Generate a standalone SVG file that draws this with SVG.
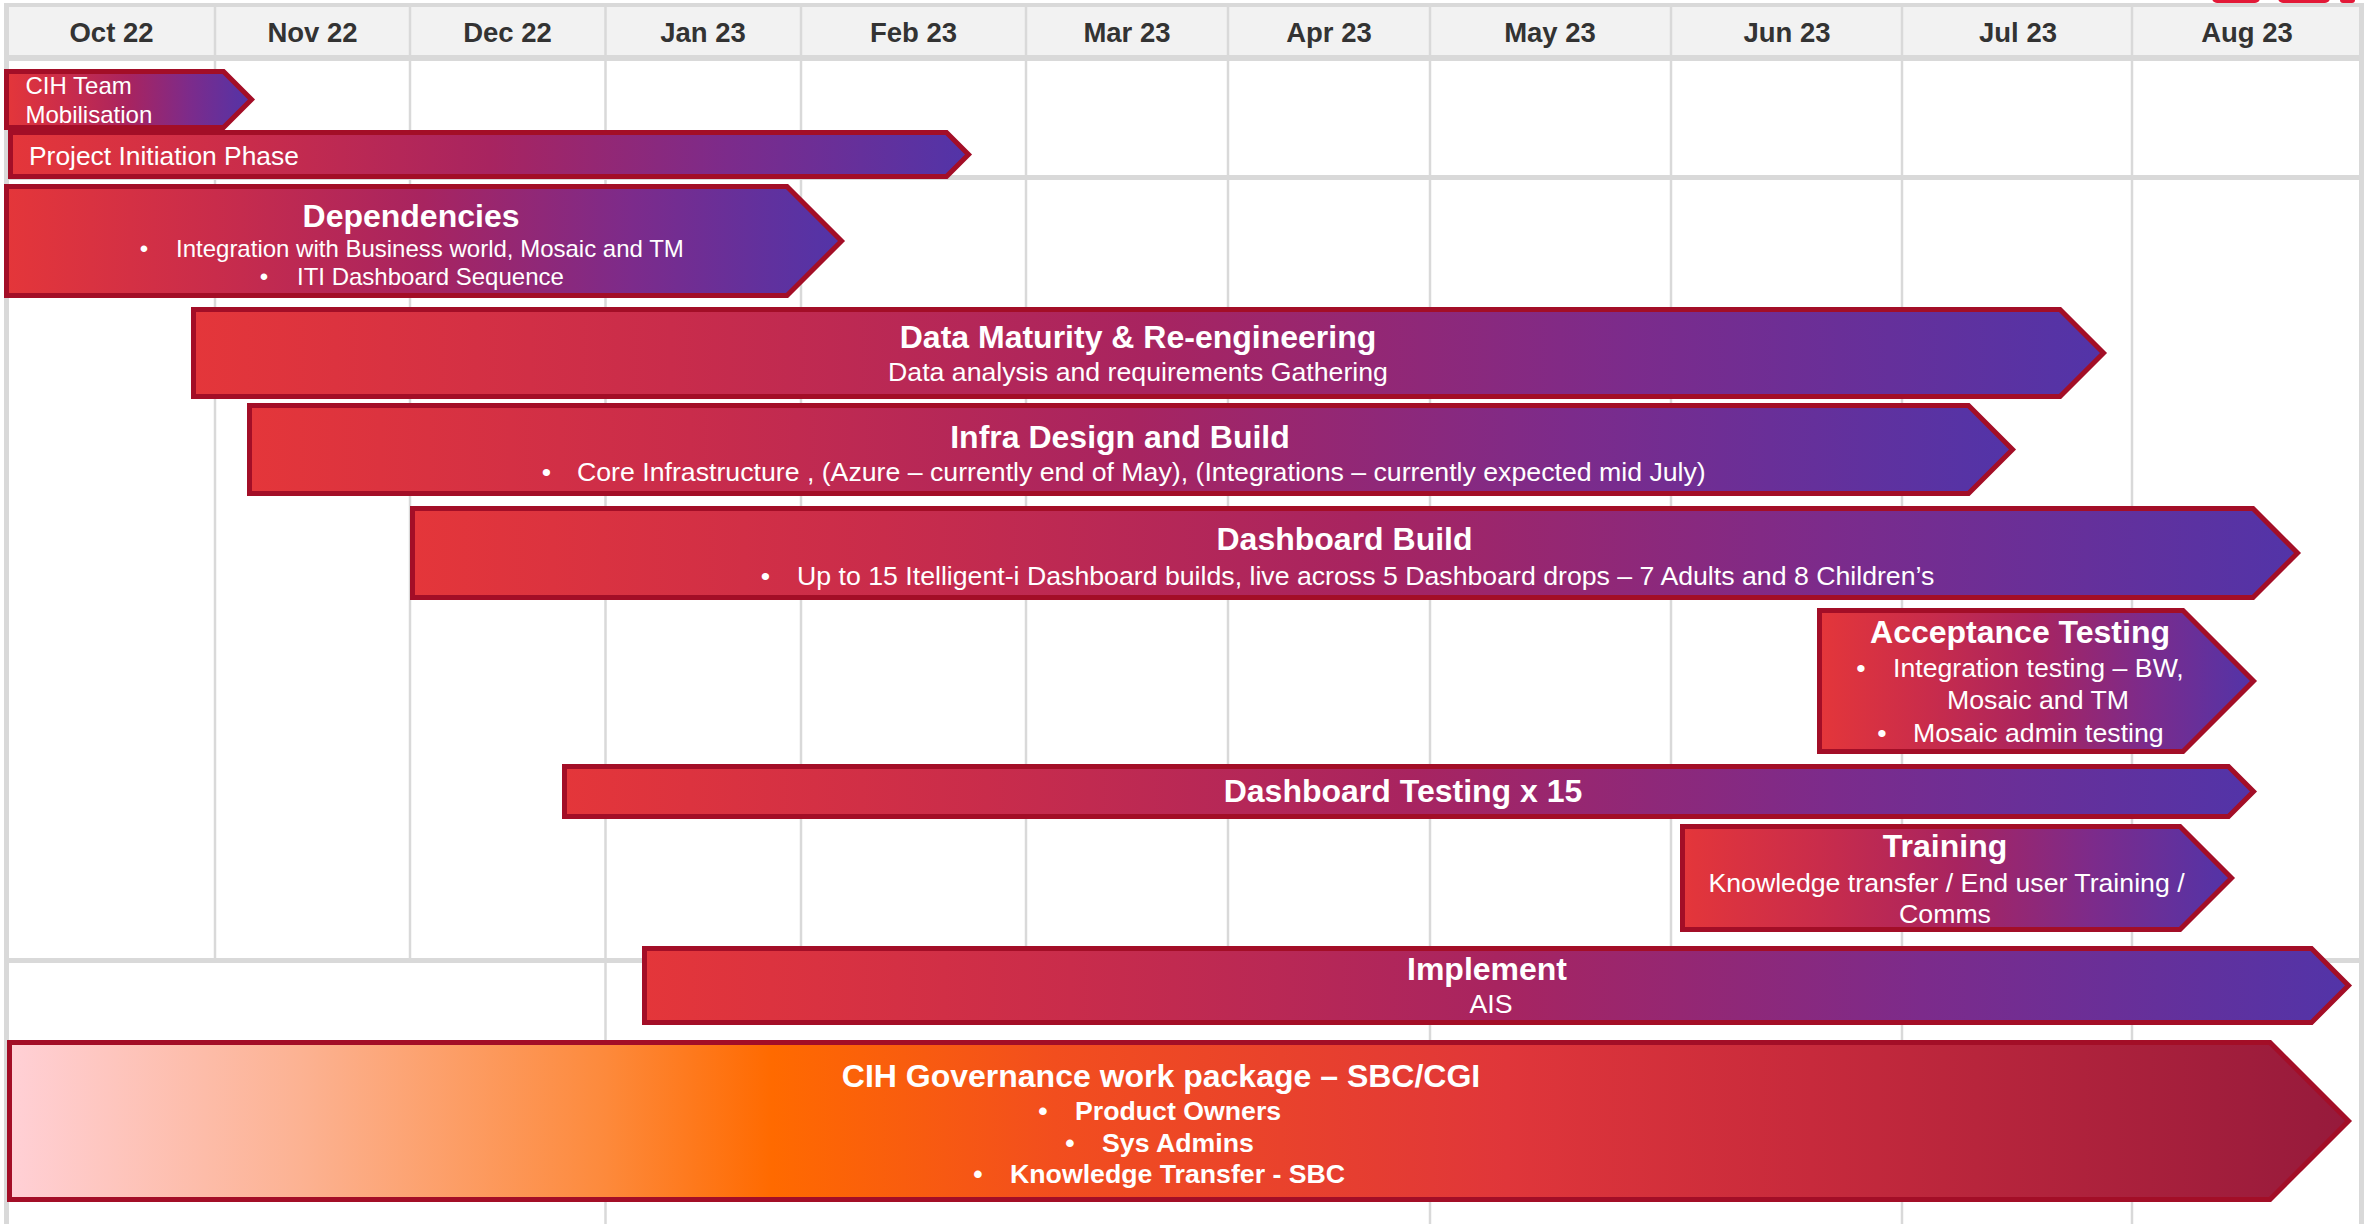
<svg xmlns="http://www.w3.org/2000/svg" width="2369" height="1224" viewBox="0 0 2369 1224">
<defs>
<linearGradient id="gBar" x1="0" y1="0" x2="1" y2="0">
<stop offset="0" stop-color="#E4363A"/>
<stop offset="0.25" stop-color="#C92C4B"/>
<stop offset="0.5" stop-color="#A82460"/>
<stop offset="0.75" stop-color="#7C2B8B"/>
<stop offset="1" stop-color="#5234A8"/>
</linearGradient>
<linearGradient id="gGov" x1="0" y1="0" x2="1" y2="0">
<stop offset="0" stop-color="#FFD0D6"/>
<stop offset="0.125" stop-color="#FCB292"/>
<stop offset="0.254" stop-color="#FD8A3C"/>
<stop offset="0.326" stop-color="#FF6A00"/>
<stop offset="0.447" stop-color="#F24E1E"/>
<stop offset="0.64" stop-color="#E0363A"/>
<stop offset="0.77" stop-color="#C72A3C"/>
<stop offset="1" stop-color="#961A3C"/>
</linearGradient>
</defs>
<style>
.bar{fill:url(#gBar);stroke:#A30E27;stroke-width:5;stroke-linejoin:miter}
.gov{fill:url(#gGov);stroke:#A30E27;stroke-width:5;stroke-linejoin:miter}
.gl{fill:#D9D9D9}
.cl{stroke:#D9D9D9;stroke-width:2.5}
.t{font-family:"Liberation Sans",Arial,sans-serif;fill:#FFFFFF}
.ti{font-weight:bold;font-size:32px;text-anchor:middle}
.s{font-size:26.7px}
.s24{font-size:24px}
.b{font-weight:bold}
.c{text-anchor:middle}
.mon{font-family:"Liberation Sans",Arial,sans-serif;font-weight:bold;font-size:27.5px;fill:#333333;text-anchor:middle}
.logo{fill:#E31837}
</style>
<rect x="0" y="0" width="2369" height="1224" fill="#FFFFFF"/>
<g id="logo-fragments">
<rect class="logo" x="2212" y="-12" width="48" height="15" rx="5"/>
<rect class="logo" x="2278" y="-12" width="52" height="15" rx="5"/>
<rect class="logo" x="2340" y="-12" width="15" height="15" rx="3"/>
</g>
<g id="grid">
<rect x="8" y="7" width="2354" height="48" fill="#F2F2F2"/>
<rect class="gl" x="4" y="3" width="2360" height="4"/>
<rect class="gl" x="4" y="55" width="2360" height="6"/>
<rect class="gl" x="4" y="175" width="2360" height="5"/>
<rect class="gl" x="4" y="958" width="2360" height="5"/>
<rect class="gl" x="4" y="3" width="5" height="1221"/>
<rect class="gl" x="2359" y="3" width="5" height="1221"/>
<g class="cl">
<line x1="215" y1="5" x2="215" y2="960"/>
<line x1="410" y1="5" x2="410" y2="960"/>
<line x1="605.5" y1="5" x2="605.5" y2="1224"/>
<line x1="801" y1="5" x2="801" y2="960"/>
<line x1="1026" y1="5" x2="1026" y2="960"/>
<line x1="1228" y1="5" x2="1228" y2="960"/>
<line x1="1430" y1="5" x2="1430" y2="1224"/>
<line x1="1671" y1="5" x2="1671" y2="960"/>
<line x1="1902" y1="5" x2="1902" y2="1224"/>
<line x1="2132" y1="5" x2="2132" y2="1224"/>
</g>
</g>
<g id="months">
<text class="mon" x="111.5" y="41.5">Oct 22</text>
<text class="mon" x="312.5" y="41.5">Nov 22</text>
<text class="mon" x="507.5" y="41.5">Dec 22</text>
<text class="mon" x="703" y="41.5">Jan 23</text>
<text class="mon" x="913.5" y="41.5">Feb 23</text>
<text class="mon" x="1127" y="41.5">Mar 23</text>
<text class="mon" x="1329" y="41.5">Apr 23</text>
<text class="mon" x="1550" y="41.5">May 23</text>
<text class="mon" x="1787" y="41.5">Jun 23</text>
<text class="mon" x="2018" y="41.5">Jul 23</text>
<text class="mon" x="2247" y="41.5">Aug 23</text>
</g>
<g id="bars">
<g id="cih-team-mobilisation">
<path class="bar" d="M6.5,71.5 H223.5 L251.5,99.5 L223.5,127.5 H6.5 Z"/>
<text class="t s24" x="25.5" y="94">CIH Team</text>
<text class="t s24" x="25.5" y="123">Mobilisation</text>
</g>
<g id="project-initiation-phase">
<path class="bar" d="M10.5,132.5 H946.5 L968.5,154.5 L946.5,176.5 H10.5 Z"/>
<text class="t" style="font-size:26.4px" x="29" y="165">Project Initiation Phase</text>
</g>
<g id="dependencies">
<path class="bar" d="M6.5,186.5 H787 L841.5,241 L787,295.5 H6.5 Z"/>
<text class="t ti" x="411" y="227">Dependencies</text>
<text class="t s24"><tspan class="c" x="144" y="257">•</tspan><tspan x="176" y="257">Integration with Business world, Mosaic and TM</tspan></text>
<text class="t s24"><tspan class="c" x="264" y="285">•</tspan><tspan x="297" y="285">ITI Dashboard Sequence</tspan></text>
</g>
<g id="data-maturity">
<path class="bar" d="M193.5,309.5 H2060 L2103.5,353 L2060,396.5 H193.5 Z"/>
<text class="t ti" x="1138" y="348">Data Maturity &amp; Re-engineering</text>
<text class="t s c" x="1138" y="381">Data analysis and requirements Gathering</text>
</g>
<g id="infra-design-build">
<path class="bar" d="M249.5,405.5 H1968.5 L2012.5,449.5 L1968.5,493.5 H249.5 Z"/>
<text class="t ti" x="1120" y="448">Infra Design and Build</text>
<text class="t s"><tspan class="c" x="546.5" y="481">•</tspan><tspan x="577" y="481">Core Infrastructure , (Azure – currently end of May), (Integrations – currently expected mid July)</tspan></text>
</g>
<g id="dashboard-build">
<path class="bar" d="M412.5,508.5 H2253 L2297.5,553 L2253,597.5 H412.5 Z"/>
<text class="t ti" x="1344.5" y="550">Dashboard Build</text>
<text class="t s"><tspan class="c" x="765.5" y="585">•</tspan><tspan x="797" y="585">Up to 15 Itelligent-i Dashboard builds, live across 5 Dashboard drops – 7 Adults and 8 Children’s</tspan></text>
</g>
<g id="acceptance-testing">
<path class="bar" d="M1819.5,610.5 H2183 L2253.5,681 L2183,751.5 H1819.5 Z"/>
<text class="t ti" x="2020" y="643">Acceptance Testing</text>
<text class="t s"><tspan class="c" x="1861" y="677">•</tspan><tspan x="1893" y="677">Integration testing – BW,</tspan></text>
<text class="t s" x="1947" y="709">Mosaic and TM</text>
<text class="t s"><tspan class="c" x="1882" y="742">•</tspan><tspan x="1913" y="742">Mosaic admin testing</tspan></text>
</g>
<g id="dashboard-testing">
<path class="bar" d="M564.5,766.5 H2228.5 L2253.5,791.5 L2228.5,816.5 H564.5 Z"/>
<text class="t ti" x="1403" y="802">Dashboard Testing x 15</text>
</g>
<g id="training">
<path class="bar" d="M1682.5,826.5 H2180 L2231.5,878 L2180,929.5 H1682.5 Z"/>
<text class="t ti" x="1945" y="857">Training</text>
<text class="t s c" x="1946.5" y="892">Knowledge transfer / End user Training /</text>
<text class="t s c" x="1945" y="923">Comms</text>
</g>
<g id="implement">
<path class="bar" d="M644.5,948.5 H2311.5 L2348.5,985.5 L2311.5,1022.5 H644.5 Z"/>
<text class="t ti" x="1487" y="980">Implement</text>
<text class="t s c" x="1491" y="1013">AIS</text>
</g>
<g id="cih-governance">
<path class="gov" d="M9.5,1042.5 H2270 L2348.5,1121 L2270,1199.5 H9.5 Z"/>
<text class="t ti" x="1161" y="1087">CIH Governance work package – SBC/CGI</text>
<text class="t s b"><tspan class="c" x="1043" y="1120">•</tspan><tspan x="1075" y="1120">Product Owners</tspan></text>
<text class="t s b"><tspan class="c" x="1070" y="1152">•</tspan><tspan x="1102" y="1152">Sys Admins</tspan></text>
<text class="t s b"><tspan class="c" x="978" y="1183">•</tspan><tspan x="1010" y="1183">Knowledge Transfer - SBC</tspan></text>
</g>
</g>
</svg>
